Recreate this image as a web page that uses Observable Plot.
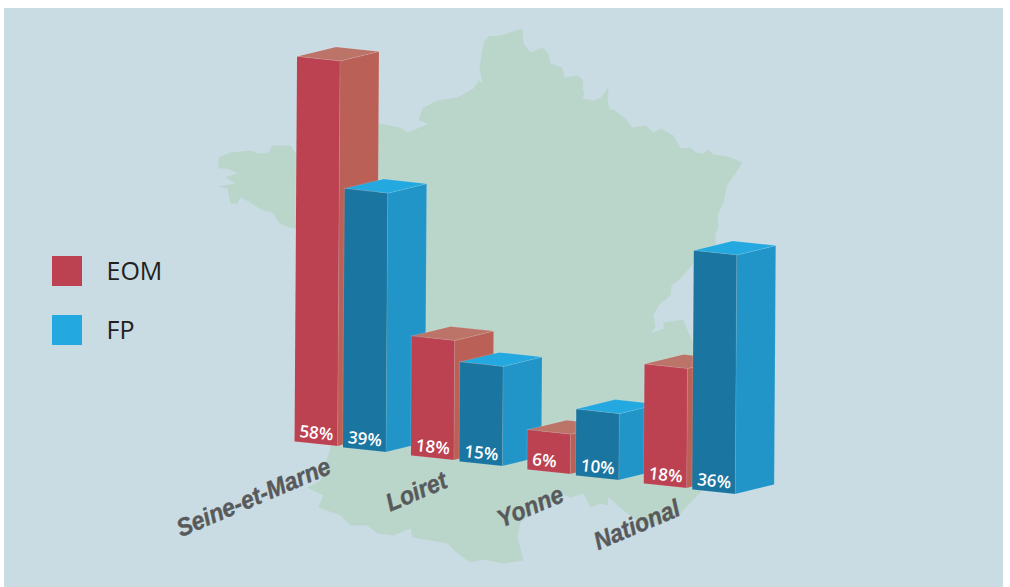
<!DOCTYPE html>
<html>
<head>
<meta charset="utf-8">
<style>html,body{margin:0;padding:0;background:#fff}svg{display:block}</style>
<script src="https://cdn.jsdelivr.net/npm/d3@7"></script>
<script src="https://cdn.jsdelivr.net/npm/@observablehq/plot@0.6"></script>
</head>
<body>
<div id="chart"></div>
<script>
const categories = ["Seine-et-Marne", "Loiret", "Yonne", "National"];
const seriesNames = ["EOM", "FP"];
const eomValues = [58, 18, 6, 18];
const fpValues = [39, 15, 10, 36];
const frontColors = ["#bc4252", "#1a75a0"];
const sideColors = ["#bb6056", "#2295c8"];
const topColors = ["#bc7368", "#24a8e0"];
const legendColors = ["#bc4252", "#24a8e0"];

// Backdrop silhouette of France
const franceOutline = [
  [522,28],[523,43],[530,52],[542,47],[548,53],[550,63],[562,67],[564,77],[578,75],[583,81],[582,88],[584,93],[582,98],
  [593,100],[601,97],[607,87],[608,92],[607,100],[609,109],[613,109],[625,118],[632,127],[645,125],[653,132],[660,128],
  [673,135],[680,148],[690,147],[695,152],[703,153],[708,149],[713,154],[727,156],[742,162],[735,173],[727,184],[723,202],
  [717,215],[718,227],[715,233],[715,247],[693,263],[680,278],[671,285],[670,295],[658,305],[653,315],[655,327],[650,333],
  [663,328],[663,322],[683,319],[687,330],[692,340],[720,420],[700,492],[690,502],[680,513],[670,518],[657,523],[640,523],
  [627,513],[615,503],[608,497],[607,505],[600,503],[590,507],[583,493],[570,497],[563,494],[558,500],[537,507],[520,522],
  [517,537],[523,560],[503,563],[482,559],[470,562],[457,553],[447,543],[412,537],[410,528],[393,535],[377,533],[367,525],
  [350,525],[340,515],[318,507],[323,495],[307,487],[320,480],[330,447],[340,300],[295,228],[288,227],[278,222],[272,212],
  [262,210],[250,202],[240,197],[237,203],[230,203],[227,188],[217,186],[235,183],[225,177],[237,173],[227,168],[218,168],
  [218,157],[230,152],[250,150],[258,153],[268,152],[272,145],[290,145],[295,152],[340,130],[378,123],[400,127],[407,132],
  [417,128],[428,123],[418,120],[422,108],[437,100],[457,97],[473,88],[478,80],[482,83],[479,67],[483,42],[488,36],[500,35]
];

// Oblique projection of the 3D bars
const unit = 6.64, lean = 0.0065;
const base = (c, s) => [294 + 116.4 * c + 48.5 * s, 441 + 14 * c + 6 * s];
const frontVec = [43, 4.6], sideVec = [39, -9.5];

const values = [eomValues, fpValues];
const bars = categories.flatMap((category, c) =>
  seriesNames.map((series, s) => ({category, series, c, s, value: values[s][c]}))
);
function corner(b, along, depth, up) {
  const [bx, by] = base(b.c, b.s);
  const h = up * b.value * unit;
  return {
    x: bx + along * frontVec[0] + depth * sideVec[0] + h * lean,
    y: by + along * frontVec[1] + depth * sideVec[1] - h
  };
}
const faces = bars.flatMap((b, i) => {
  const make = (name, fill, pts) => pts.map(p => ({id: `${i}-${name}`, fill, ...corner(b, ...p)}));
  return [
    ...make("side", sideColors[b.s], [[1,0,0],[1,1,0],[1,1,1],[1,0,1]]),
    ...make("top", topColors[b.s], [[0,0,1],[1,0,1],[1,1,1],[0,1,1]]),
    ...make("front", frontColors[b.s], [[0,0,0],[1,0,0],[1,0,1],[0,0,1]])
  ];
});
const valueLabels = bars.map(b => {
  const [bx, by] = base(b.c, b.s);
  return {x: bx + 5, y: by - 10, text: `${b.value}%`};
});
const categoryLabels = categories.map((name, c) => {
  const [bx, by] = base(c, 0);
  return {x: bx + 35, y: by + 24, text: name};
});
const legend = seriesNames.map((name, s) => ({
  name, fill: legendColors[s], x1: 52, x2: 82, y1: 256 + 59 * s, y2: 286 + 59 * s
}));

const chart = Plot.plot({
  width: 1010, height: 587,
  margin: 0,
  style: {background: "#ffffff", overflow: "hidden"},
  x: {domain: [0, 1010], range: [0, 1010], axis: null},
  y: {domain: [0, 587], range: [0, 587], axis: null},
  color: {type: "identity"},
  marks: [
    Plot.rect([{x1: 4, x2: 1003, y1: 8, y2: 587}], {x1: "x1", x2: "x2", y1: "y1", y2: "y2", fill: "#c9dbe3"}),
    Plot.line(franceOutline, {x: d => d[0], y: d => d[1], fill: "#bad6cb", stroke: "none", curve: "linear-closed"}),
    Plot.line(faces, {x: "x", y: "y", z: "id", fill: "fill", stroke: "#ffffff", strokeOpacity: 0.14, strokeWidth: 0.8, curve: "linear-closed"}),
    Plot.text(valueLabels, {x: "x", y: "y", text: "text", fill: "#ffffff", textAnchor: "start", rotate: 6, fontFamily: "Open Sans", fontWeight: 600, fontSize: 17}),
    Plot.text(categoryLabels, {
      x: "x", y: "y", text: "text", fill: "#58595b", stroke: "#58595b", strokeWidth: 0.4,
      textAnchor: "end", rotate: -23, fontFamily: "Liberation Sans", fontWeight: 700, fontStyle: "italic", fontSize: 25,
      render(index, scales, values, dimensions, context, next) {
        const g = next(index, scales, values, dimensions, context);
        d3.select(g).selectAll("text").attr("transform", function () {
          return `${this.getAttribute("transform") || ""} scale(0.92,1)`;
        });
        return g;
      }
    }),
    Plot.rect(legend, {x1: "x1", x2: "x2", y1: "y1", y2: "y2", fill: "fill"}),
    Plot.text(legend, {x: () => 106, y: d => (d.y1 + d.y2) / 2, text: "name", fill: "#231f20", textAnchor: "start", fontFamily: "Open Sans", fontSize: 25})
  ]
});
document.getElementById("chart").append(chart);
</script>
</body>
</html>
